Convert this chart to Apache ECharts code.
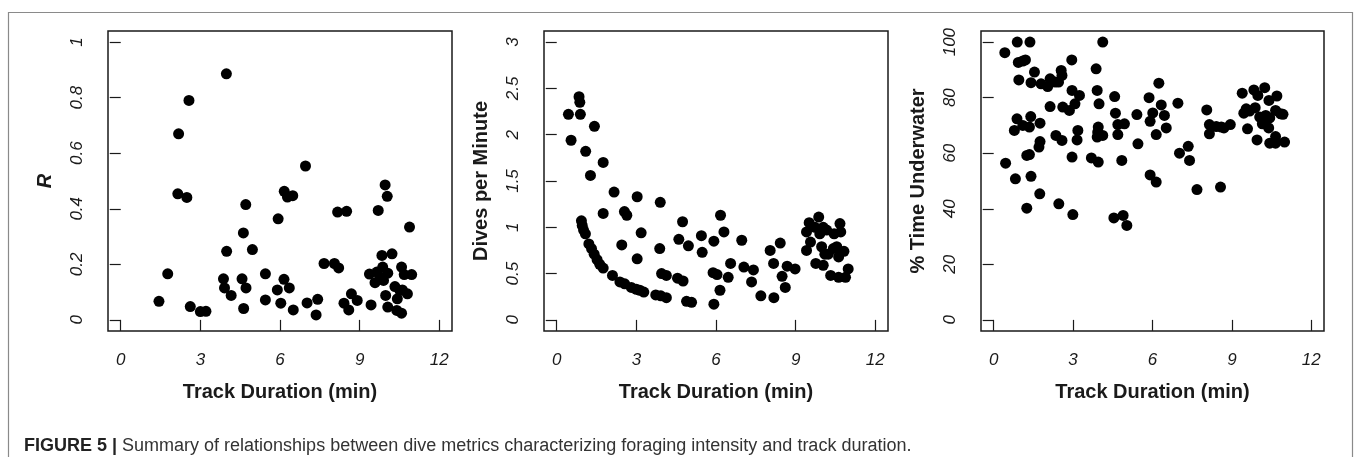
<!DOCTYPE html>
<html>
<head>
<meta charset="utf-8">
<title>Figure 5</title>
<script src="https://cdn.jsdelivr.net/npm/echarts@6/dist/echarts.min.js"></script>
<style>
  html, body { margin: 0; padding: 0; background: #fff; }
  #chart { width: 1355px; height: 457px; }
</style>
</head>
<body>
<div id="chart"></div>
<script>
// track duration (min) vs metric
const rPoints = [
  [1.44, 0.067], [1.77, 0.166], [2.18, 0.670], [2.57, 0.790], [2.15, 0.454], [2.49, 0.441],
  [2.62, 0.048], [3.00, 0.030], [3.21, 0.031], [3.98, 0.886], [3.99, 0.247], [3.87, 0.148],
  [3.91, 0.115], [4.16, 0.088], [4.62, 0.313], [4.71, 0.415], [4.96, 0.253], [4.57, 0.148],
  [4.72, 0.115], [4.63, 0.041], [5.45, 0.166], [5.45, 0.072], [5.93, 0.364], [5.90, 0.108],
  [6.03, 0.060], [6.15, 0.146], [6.35, 0.115], [6.50, 0.036], [6.16, 0.463], [6.28, 0.442],
  [6.48, 0.447], [6.96, 0.554], [7.02, 0.061], [7.42, 0.074], [7.36, 0.018], [7.66, 0.203],
  [8.05, 0.203], [8.21, 0.187], [8.17, 0.388], [8.51, 0.391], [8.41, 0.060], [8.59, 0.036],
  [8.69, 0.094], [8.91, 0.070], [9.43, 0.054], [9.37, 0.165], [9.58, 0.134], [9.70, 0.394],
  [9.96, 0.486], [10.04, 0.445], [9.84, 0.232], [10.22, 0.238], [9.87, 0.190], [9.77, 0.154],
  [9.90, 0.142], [10.06, 0.168], [9.98, 0.088], [10.06, 0.046], [10.33, 0.120], [10.42, 0.076],
  [10.40, 0.034], [10.58, 0.024], [10.58, 0.190], [10.68, 0.163], [10.80, 0.094], [10.61, 0.108],
  [10.96, 0.163], [10.88, 0.334], [10.52, 0.106], [9.65, 0.172]
];

const divesPoints = [
  [0.44, 2.22], [0.54, 1.94], [0.84, 2.41], [0.87, 2.35], [0.89, 2.22], [1.42, 2.09],
  [1.09, 1.82], [1.27, 1.56], [1.75, 1.70], [2.16, 1.38], [1.75, 1.15], [2.55, 1.17],
  [2.64, 1.13], [3.03, 1.33], [3.18, 0.94], [2.45, 0.81], [3.03, 0.66], [3.90, 1.27],
  [3.88, 0.77], [4.74, 1.06], [4.60, 0.87], [4.96, 0.80], [5.45, 0.91], [5.48, 0.73],
  [5.92, 0.85], [6.17, 1.13], [6.30, 0.95], [6.55, 0.61], [6.46, 0.46], [6.15, 0.32],
  [5.92, 0.17], [5.89, 0.51], [6.04, 0.49], [6.97, 0.86], [7.05, 0.57], [7.41, 0.54],
  [7.34, 0.41], [7.69, 0.26], [8.18, 0.24], [8.04, 0.75], [8.42, 0.83], [8.17, 0.61],
  [8.49, 0.47], [8.61, 0.35], [8.68, 0.58], [8.98, 0.55],
  [0.93, 1.07], [0.96, 1.02], [1.01, 0.97], [1.08, 0.93], [1.21, 0.82], [1.31, 0.77],
  [1.41, 0.71], [1.52, 0.65], [1.62, 0.60], [1.75, 0.56], [2.10, 0.48], [2.38, 0.41],
  [2.56, 0.39], [2.81, 0.35], [3.00, 0.33], [3.13, 0.32], [3.28, 0.30], [3.73, 0.27],
  [3.92, 0.26], [4.13, 0.24], [3.95, 0.50], [4.13, 0.48], [4.55, 0.45], [4.76, 0.42],
  [4.89, 0.20], [5.08, 0.19],
  [9.41, 0.95], [9.51, 1.05], [9.41, 0.75], [9.56, 0.84], [9.87, 1.11], [9.91, 0.93],
  [9.73, 1.00], [10.04, 1.00], [10.17, 0.97], [9.98, 0.79], [9.76, 0.61], [10.04, 0.59],
  [10.10, 0.71], [10.32, 0.48], [10.42, 0.77], [10.55, 0.79], [10.62, 0.68], [10.67, 1.04],
  [10.70, 0.95], [10.82, 0.74], [10.62, 0.46], [10.88, 0.46], [10.98, 0.55], [10.23, 0.71],
  [10.45, 0.93]
];

const underwaterPoints = [
  [0.42, 96.2], [0.89, 100], [1.37, 100], [4.12, 100], [0.93, 92.7], [1.10, 93.2],
  [1.20, 93.6], [2.95, 93.6], [0.95, 86.4], [1.54, 89.2], [1.41, 85.4], [1.79, 85.0],
  [2.04, 84.0], [2.13, 86.8], [2.32, 85.6], [2.45, 85.6], [2.55, 89.8], [2.58, 88.0],
  [3.87, 90.4], [3.91, 82.6], [3.98, 77.8], [2.96, 82.6], [3.24, 80.8], [3.07, 77.8],
  [2.86, 75.4], [2.61, 76.6], [2.13, 76.8], [0.88, 72.4], [0.78, 68.2], [1.10, 70.0],
  [1.35, 69.4], [1.40, 73.2], [1.75, 70.8], [1.75, 64.2], [1.71, 62.2], [1.25, 59.2],
  [1.35, 59.5], [0.45, 56.4], [0.82, 50.8], [1.41, 51.7], [1.74, 45.4], [1.25, 40.2],
  [2.46, 41.8], [2.99, 37.9], [2.35, 66.4], [2.58, 64.6], [3.18, 68.2], [3.15, 64.8],
  [2.96, 58.6], [3.69, 58.3], [3.95, 56.8], [3.95, 69.4], [3.93, 67.6], [3.91, 65.8],
  [4.12, 66.4], [4.57, 80.4], [4.60, 74.4], [4.69, 70.3], [4.94, 70.6], [4.69, 66.7],
  [4.84, 57.4], [4.54, 36.7], [4.89, 37.6], [5.03, 34.0], [5.41, 73.9], [5.45, 63.4],
  [5.87, 80.0], [6.01, 74.5], [5.91, 71.5], [6.14, 66.7], [6.24, 85.2], [6.33, 77.4],
  [6.45, 73.6], [6.52, 69.1], [5.91, 52.2], [6.14, 49.6], [6.96, 78.0], [7.02, 60.0],
  [7.35, 62.5], [7.40, 57.4], [7.68, 46.9], [8.05, 75.6], [8.15, 70.3], [8.15, 67.0],
  [8.41, 69.6], [8.60, 69.4], [8.70, 69.1], [8.94, 70.3], [8.57, 47.8], [9.39, 81.6],
  [9.45, 74.4], [9.54, 76.0], [9.59, 68.8], [9.67, 75.2], [9.88, 76.4], [9.83, 82.8],
  [9.98, 80.8], [10.24, 83.6], [10.05, 73.0], [9.95, 64.8], [10.15, 70.6], [10.28, 73.6],
  [10.43, 72.7], [10.39, 69.1], [10.40, 79.0], [10.43, 63.6], [10.65, 66.0], [10.65, 63.6],
  [10.70, 80.6], [10.65, 75.4], [10.84, 74.2], [10.99, 64.0], [10.20, 72.1], [10.93, 74.0]
];

const xTicks = [0, 3, 6, 9, 12];
const rTicks = [0, 0.2, 0.4, 0.6, 0.8, 1];
const divesTicks = [0, 0.5, 1, 1.5, 2, 2.5, 3];
const underwaterTicks = [0, 20, 40, 60, 80, 100];

const FONT = '"Liberation Sans", Arial, Helvetica, sans-serif';
const INK = '#1a1a1a';

// R pads each axis range by 4%
function padded(ticks) {
  const lo = ticks[0], hi = ticks[ticks.length - 1];
  const pad = (hi - lo) * 0.04;
  return { min: lo - pad, max: hi + pad };
}

const panels = [
  { left: 108, width: 344, data: rPoints, ticks: rTicks, name: 'R', italic: true },
  { left: 544, width: 344, data: divesPoints, ticks: divesTicks, name: 'Dives per Minute' },
  { left: 981, width: 343, data: underwaterPoints, ticks: underwaterTicks, name: '% Time Underwater' },
];

const xRange = padded(xTicks);

let option = {
  animation: false,
  backgroundColor: '#fff',
  textStyle: { fontFamily: FONT },
  grid: panels.map(p => ({
    left: p.left,
    top: 31,
    width: p.width,
    height: 300,
    show: true,
    borderColor: INK,
    borderWidth: 1.5,
    backgroundColor: 'transparent',
  })),
  xAxis: panels.map((p, i) => ({
    type: 'value',
    gridIndex: i,
    min: xRange.min,
    max: xRange.max,
    splitLine: { show: false },
    axisLine: { show: false },
    axisTick: { show: true, length: 11, customValues: xTicks, lineStyle: { color: INK, width: 1.2 } },
    axisLabel: {
      customValues: xTicks,
      margin: 21,
      fontSize: 17,
      fontStyle: 'italic',
      color: INK,
      fontFamily: FONT,
    },
    name: 'Track Duration (min)',
    nameLocation: 'middle',
    nameGap: 51,
    nameTextStyle: { fontSize: 20, fontWeight: 'bold', color: INK, fontFamily: FONT },
  })),
  yAxis: panels.map((p, i) => {
    const yr = padded(p.ticks);
    return {
      type: 'value',
      gridIndex: i,
      min: yr.min,
      max: yr.max,
      splitLine: { show: false },
      axisLine: { show: false },
      axisTick: { show: true, length: 11, customValues: p.ticks, lineStyle: { color: INK, width: 1.2 } },
      axisLabel: {
        customValues: p.ticks,
        rotate: 90,
        margin: 22,
        fontSize: 17,
        fontStyle: 'italic',
        color: INK,
        fontFamily: FONT,
      },
      name: p.name,
      nameLocation: 'middle',
      nameGap: 53,
      nameTextStyle: {
        fontSize: 20,
        fontWeight: 'bold',
        fontStyle: p.italic ? 'italic' : 'normal',
        color: INK,
        fontFamily: FONT,
      },
    };
  }),
  series: panels.map((p, i) => ({
    type: 'scatter',
    xAxisIndex: i,
    yAxisIndex: i,
    data: p.data,
    symbol: 'circle',
    symbolSize: 11,
    itemStyle: { color: '#000', opacity: 1 },
    emphasis: { disabled: true },
  })),
  graphic: [
    {
      type: 'polyline',
      silent: true,
      shape: { points: [[8.5, 457], [8.5, 12.5], [1352.5, 12.5], [1352.5, 457]] },
      style: { stroke: '#8a8a8a', lineWidth: 1.2, fill: null },
    },
    {
      type: 'text',
      left: 24,
      top: 437,
      silent: true,
      style: {
        text: '{b|FIGURE 5 |} Summary of relationships between dive metrics characterizing foraging intensity and track duration.',
        fontSize: 18,
        fontFamily: FONT,
        fill: '#333',
        rich: {
          b: { fontSize: 18, fontWeight: 'bold', fontFamily: FONT, fill: '#222' },
        },
      },
    },
  ],
};

let myChart = echarts.init(document.getElementById('chart'), null, { renderer: 'canvas' });
myChart.setOption(option);
</script>
</body>
</html>
